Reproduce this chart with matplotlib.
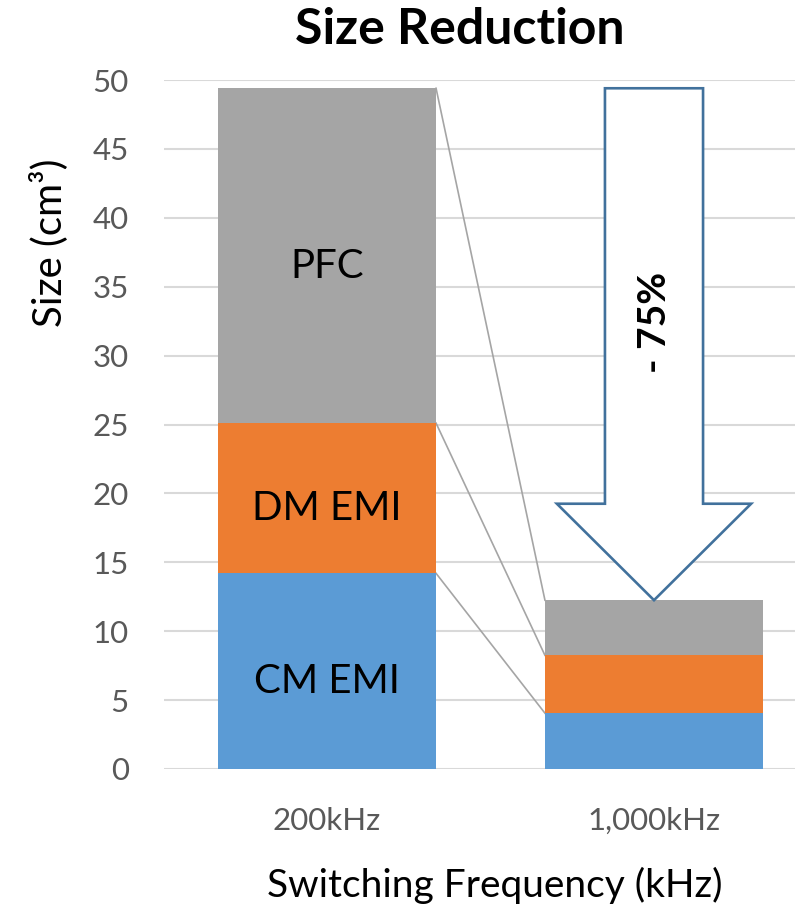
"""stacked bar chart of converter size at two switching frequencies"""
import matplotlib.pyplot as plt
from matplotlib.patches import Polygon

plt.rcParams['font.family'] = ['Lato', 'DejaVu Sans']

freqs = ["200kHz", "1,000kHz"]
parts = ["CM EMI", "DM EMI", "PFC"]
cm_emi = [14.2, 4.05]
dm_emi = [10.9, 4.2]
pfc = [24.3, 4.0]
colors = ["#5b9bd5", "#ed7d31", "#a5a5a5"]
reduction = "- 75%"

fig = plt.figure(figsize=(7.95, 9.1), dpi=100)
ax = fig.add_axes([163.5 / 795, 141 / 910, 654 / 795, 689 / 910])

xs = list(range(len(freqs)))
width = 0.667
bottoms = [0.0, 0.0]
tops = []
for name, vals, c in zip(parts, [cm_emi, dm_emi, pfc], colors):
    ax.bar(xs, vals, width, bottom=bottoms, color=c, edgecolor="none", zorder=2)
    # label only on the first bar
    ax.text(xs[0], bottoms[0] + vals[0] / 2 - 0.5, name, ha="center",
            va="center_baseline", fontsize=29, color="black", zorder=4)
    bottoms = [b + v for b, v in zip(bottoms, vals)]
    tops.append(list(bottoms))

# connector lines between stacked segment tops
for t in tops:
    ax.plot([xs[0] + width / 2, xs[1] - width / 2], [t[0], t[1]],
            color="#a5a5a5", lw=1.2, zorder=1)

# big hollow arrow from total of first bar down to total of second
top, tip = tops[-1][0], tops[-1][1]
cx = xs[1]
shaft, head, head_len = 0.15, 0.297, 7.0
pts = [(cx - shaft, top), (cx + shaft, top), (cx + shaft, tip + head_len),
       (cx + head, tip + head_len), (cx, tip), (cx - head, tip + head_len),
       (cx - shaft, tip + head_len)]
ax.add_patch(Polygon(pts, closed=True, facecolor="white", edgecolor="#41719c",
                     lw=1.9, zorder=3))
ax.text(cx, 32.4, reduction, rotation=90, ha="center", va="center",
        fontsize=28, fontweight="bold", zorder=4)

ax.set_xlim(-0.5, 1.5)
ax.set_ylim(0, 50)
ax.set_yticks(range(0, 51, 5))
ax.set_xticks(xs)
ax.set_xticklabels(freqs)
ax.yaxis.grid(True, color="#d9d9d9", lw=1.5, zorder=0)
ax.set_axisbelow(True)
ax.tick_params(length=0, labelsize=22.5, labelcolor="#595959")
ax.tick_params(axis="y", pad=25)
ax.tick_params(axis="x", pad=27)
for s in ax.spines.values():
    s.set_visible(False)

fig.text(460 / 795, 1 - 30 / 910, "Size Reduction", ha="center", va="center",
         fontsize=36, fontweight="bold")
fig.text(495 / 795, 1 - 885 / 910, "Switching Frequency (kHz)", ha="center",
         va="center", fontsize=28)
fig.text(49 / 795, 1 - 243 / 910, "Size (cm³)", ha="center", va="center",
         rotation=90, fontsize=29)

plt.savefig("out.png", dpi=100)
